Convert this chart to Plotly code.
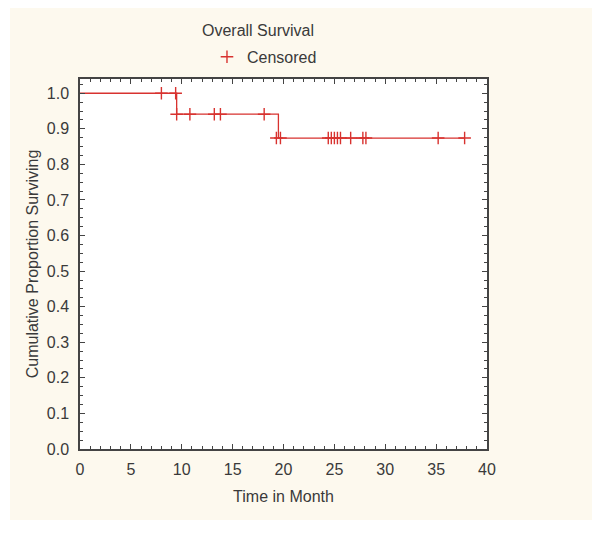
import plotly.graph_objects as go

# Kaplan-Meier step curve (time in months, cumulative proportion surviving)
step_time = [0.0, 9.5, 19.5, 37.8]
step_surv = [1.0, 0.941, 0.874, 0.874]

# Censored observations
cens_time = [8.0, 9.4, 9.5, 10.8, 13.2, 13.8, 18.1,
             19.3, 19.7, 24.4, 24.7, 25.0, 25.3, 25.6, 26.6, 27.8, 28.1, 35.2, 37.8]
cens_surv = [1.0, 1.0, 0.941, 0.941, 0.941, 0.941, 0.941,
             0.874, 0.874, 0.874, 0.874, 0.874, 0.874, 0.874, 0.874, 0.874, 0.874, 0.874, 0.874]

x_ticks = [0, 5, 10, 15, 20, 25, 30, 35, 40]
y_ticks = [0.0, 0.1, 0.2, 0.3, 0.4, 0.5, 0.6, 0.7, 0.8, 0.9, 1.0]

RED = "#D8322F"
FONT = "Liberation Sans Narrow, Arial Narrow, Liberation Sans, Arial, sans-serif"
TXT = "#3a3a3a"

W, H = 592, 525  # page body has an 8px margin

fig = go.Figure()
fig.add_trace(go.Scatter(x=step_time, y=step_surv, mode="lines",
                         line=dict(color=RED, width=1.3, shape="hv"),
                         showlegend=False, hoverinfo="skip"))
fig.add_trace(go.Scatter(x=cens_time, y=cens_surv, mode="markers", name="Censored",
                         marker=dict(symbol="cross-thin", size=9,
                                     line=dict(color=RED, width=1.4), color=RED)))

# cream panel and white plot area
fig.add_shape(type="rect", xref="paper", yref="paper",
              x0=-0.172, x1=1.30, y0=-0.192, y1=1.192,
              fillcolor="#FDF9EE", line=dict(width=0), layer="below")
fig.add_shape(type="rect", xref="paper", yref="paper",
              x0=0, x1=1, y0=0, y1=1,
              fillcolor="white", line=dict(width=0), layer="below")

axis_common = dict(showline=True, linecolor="#444444", linewidth=1.5, mirror="ticks",
                   ticks="inside", ticklen=5, tickwidth=1.2, tickcolor="#444444",
                   showgrid=False, zeroline=False,
                   tickfont=dict(family=FONT, size=16, color=TXT))

fig.update_xaxes(range=[0, 40], tickvals=x_ticks, ticktext=[str(v) for v in x_ticks],
                 ticklabelstandoff=5,
                 minor=dict(dtick=1, ticks="inside", ticklen=3, tickcolor="#444444", tickwidth=1),
                 title=dict(text="Time in Month", font=dict(family=FONT, size=16, color=TXT), standoff=14),
                 **axis_common)
fig.update_yaxes(range=[0, 1.04], tickvals=y_ticks, ticktext=[f"{v:.1f}" for v in y_ticks],
                 ticklabelstandoff=6,
                 minor=dict(dtick=0.025, ticks="inside", ticklen=3, tickcolor="#444444", tickwidth=1),
                 title=dict(text="Cumulative Proportion Surviving", font=dict(family=FONT, size=16, color=TXT), standoff=4),
                 **axis_common)

fig.update_layout(
    width=W, height=H,
    margin=dict(l=72, r=113, t=71, b=84, autoexpand=False),
    paper_bgcolor="white", plot_bgcolor="white",
    title=dict(text="Overall Survival", x=250 / W, xref="container", xanchor="center",
               y=1 - 22 / H, yref="container", yanchor="middle",
               font=dict(family=FONT, size=16, color=TXT)),
    legend=dict(x=0.312, y=1.06, xanchor="left", yanchor="middle", bgcolor="rgba(0,0,0,0)",
                font=dict(family=FONT, size=16, color=TXT)),
    showlegend=True,
)

fig.write_html("out.html")
